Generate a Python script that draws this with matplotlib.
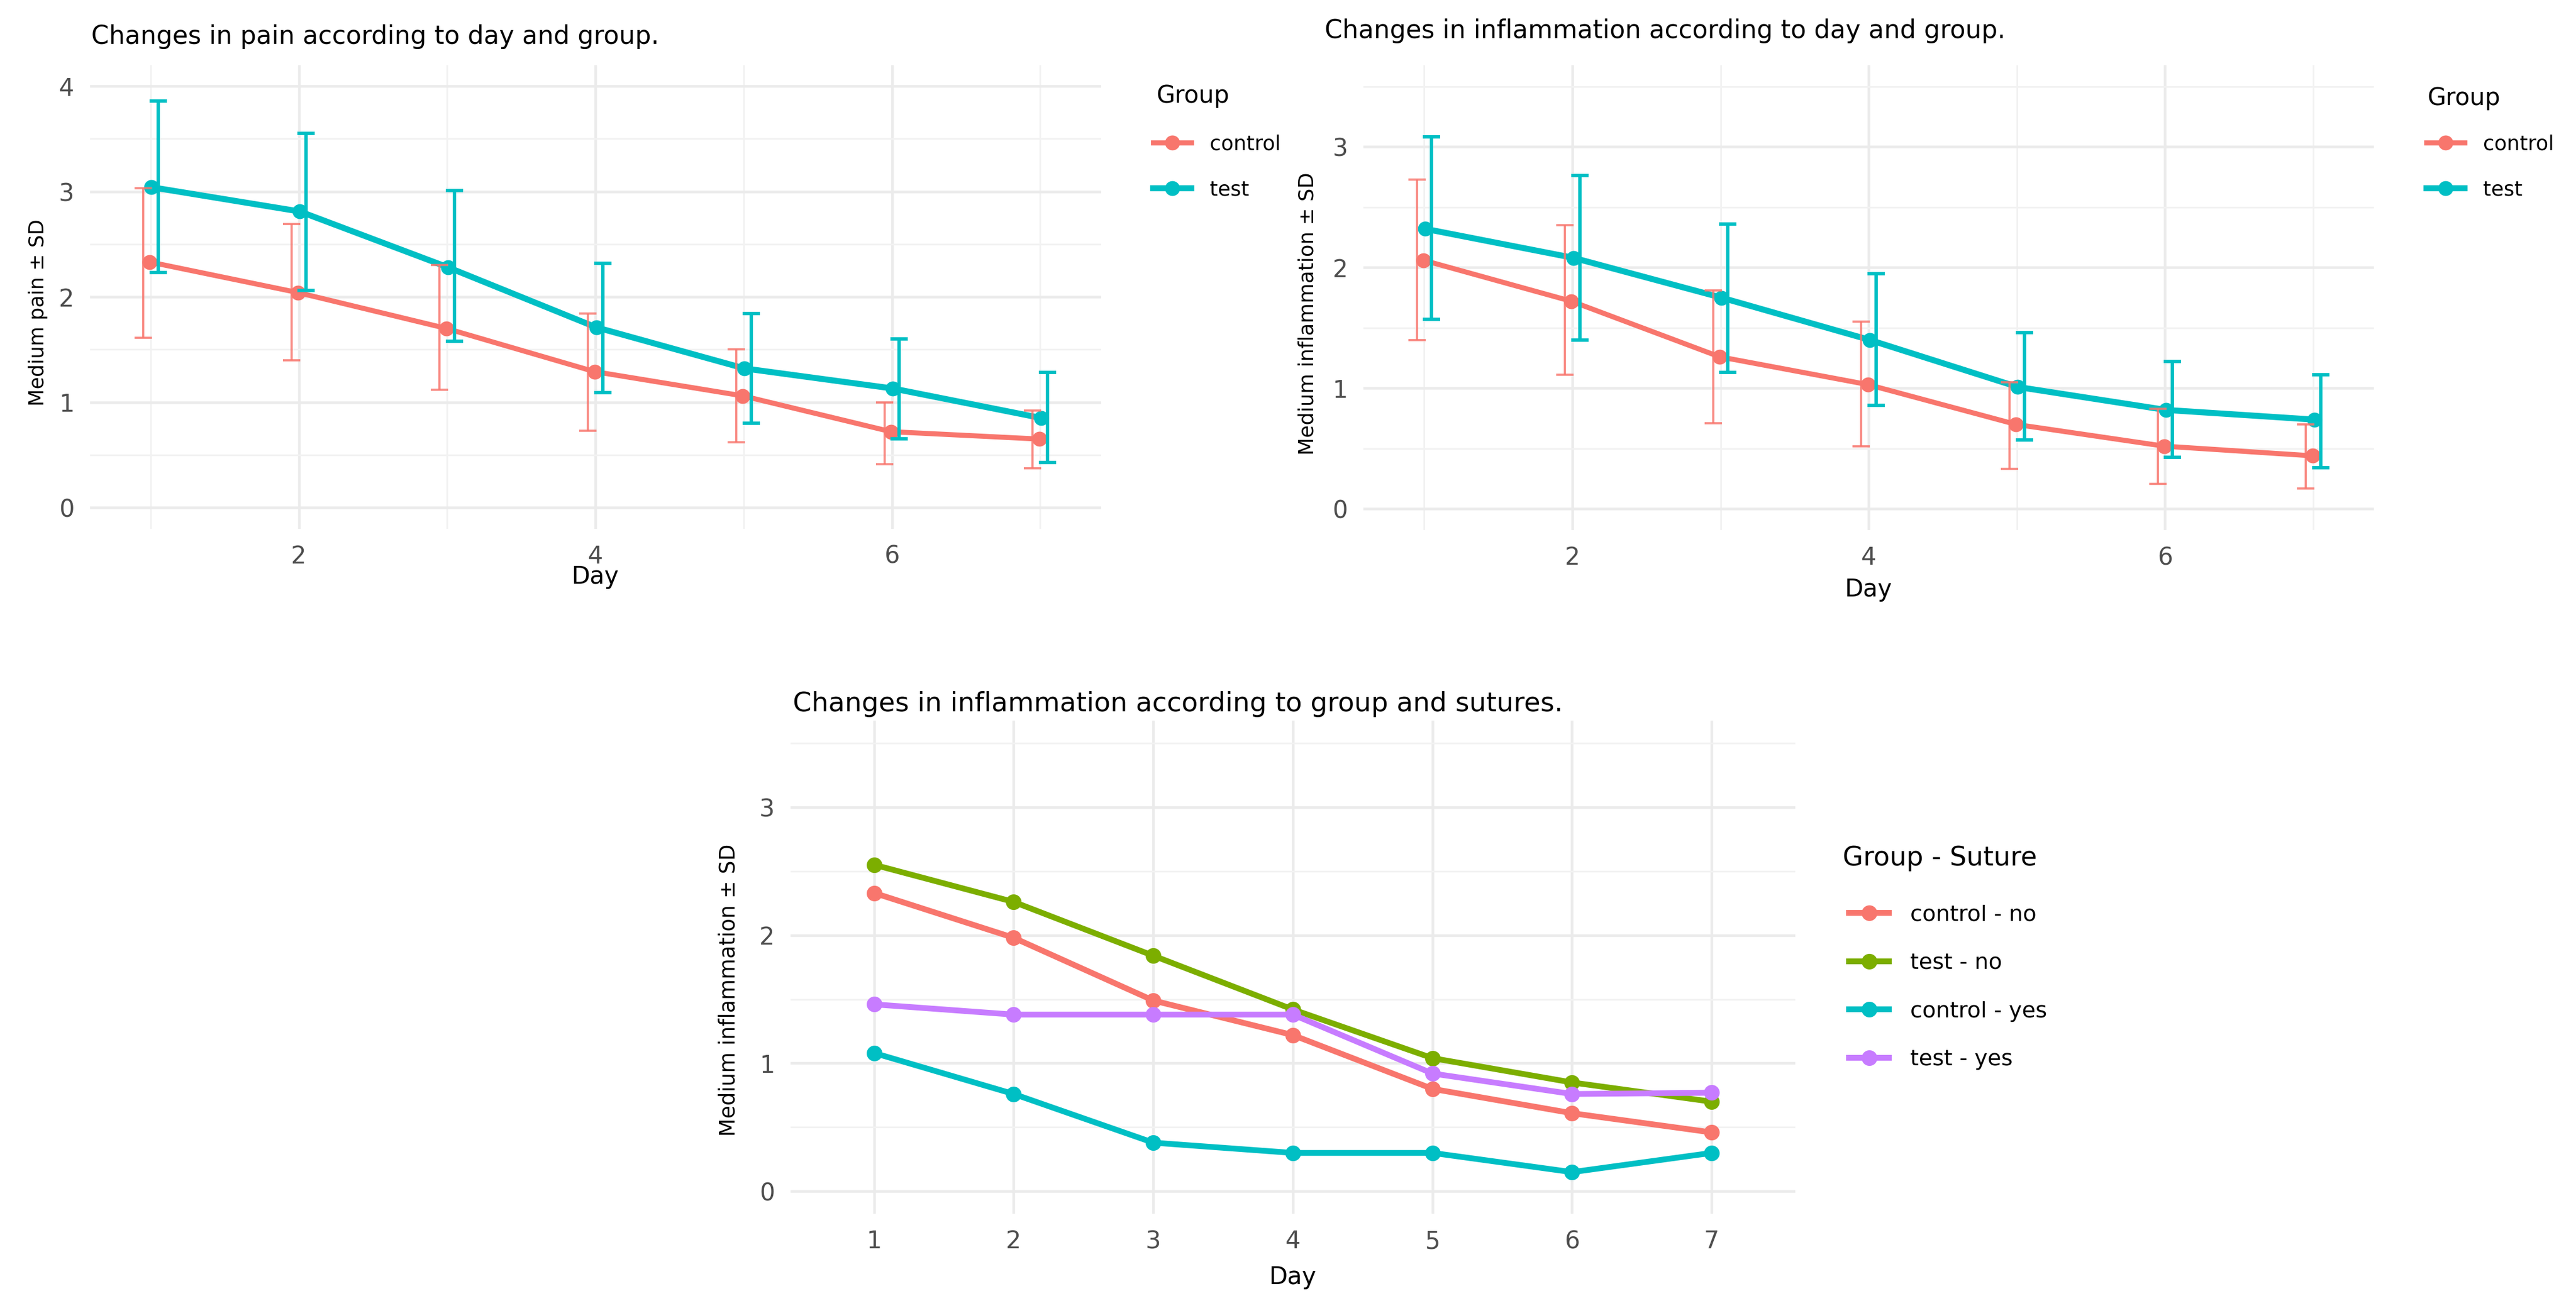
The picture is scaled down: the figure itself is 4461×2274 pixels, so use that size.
import numpy as np
import matplotlib
matplotlib.use("Agg")
import matplotlib.pyplot as plt
from matplotlib.ticker import FixedLocator, MultipleLocator

# ---- data ----
days = [1, 2, 3, 4, 5, 6, 7]

pain_control = [2.33, 2.04, 1.70, 1.29, 1.06, 0.72, 0.65]
pain_control_lo = [1.61, 1.40, 1.12, 0.73, 0.62, 0.41, 0.37]
pain_control_hi = [3.03, 2.69, 2.30, 1.84, 1.50, 1.00, 0.92]
pain_test = [3.04, 2.81, 2.28, 1.71, 1.32, 1.13, 0.85]
pain_test_lo = [2.23, 2.06, 1.58, 1.09, 0.80, 0.65, 0.43]
pain_test_hi = [3.86, 3.55, 3.01, 2.32, 1.84, 1.60, 1.28]

infl_control = [2.06, 1.72, 1.26, 1.03, 0.70, 0.52, 0.44]
infl_control_lo = [1.40, 1.11, 0.71, 0.52, 0.33, 0.21, 0.17]
infl_control_hi = [2.73, 2.35, 1.81, 1.55, 1.05, 0.83, 0.70]
infl_test = [2.32, 2.08, 1.75, 1.40, 1.01, 0.82, 0.74]
infl_test_lo = [1.57, 1.40, 1.13, 0.86, 0.57, 0.43, 0.34]
infl_test_hi = [3.08, 2.76, 2.36, 1.95, 1.46, 1.22, 1.11]

suture_labels = ["control - no", "test - no", "control - yes", "test - yes"]
suture_control_no = [2.33, 1.98, 1.49, 1.22, 0.80, 0.61, 0.46]
suture_test_no = [2.55, 2.26, 1.84, 1.42, 1.04, 0.85, 0.70]
suture_control_yes = [1.08, 0.76, 0.38, 0.30, 0.30, 0.15, 0.30]
suture_test_yes = [1.46, 1.38, 1.38, 1.38, 0.92, 0.76, 0.77]

RED = "#F8766D"
GREEN = "#7CAE00"
CYAN = "#00BFC4"
PURPLE = "#C77CFF"
TICK_GREY = "#4D4D4D"

plt.rcParams["font.family"] = ["DejaVu Sans"]

fig = plt.figure(figsize=(4461 / 300, 2274 / 300), dpi=300)
fig.patch.set_facecolor("white")


def style_axes(ax, xlim, ylim, xmajor, xminor):
    ax.set_xlim(*xlim)
    ax.set_ylim(*ylim)
    ax.xaxis.set_major_locator(FixedLocator(xmajor))
    ax.xaxis.set_minor_locator(FixedLocator(xminor))
    ax.yaxis.set_major_locator(MultipleLocator(1))
    ax.yaxis.set_minor_locator(MultipleLocator(0.5))
    ax.set_axisbelow(True)
    ax.grid(which="major", color="#EBEBEB", lw=1.1)
    ax.grid(which="minor", color="#F2F2F2", lw=0.7)
    for s in ax.spines.values():
        s.set_visible(False)
    ax.tick_params(which="both", length=0, labelsize=10, labelcolor=TICK_GREY)
    ax.tick_params(axis="x", pad=6.5)
    ax.tick_params(axis="y", pad=6.5)


def sd_panel(ax, mean_c, lo_c, hi_c, mean_t, lo_t, hi_t):
    x = np.array(days, dtype=float)
    series = [
        ("control", RED, mean_c, lo_c, hi_c, -1, 2.1, 0.9),
        ("test", CYAN, mean_t, lo_t, hi_t, 1, 2.5, 1.4),
    ]
    for name, col, m, lo, hi, side, lw, elw in series:
        m = np.array(m)
        ax.plot(x + side * 0.006, m, color=col, lw=lw, marker="o", ms=5.2,
                label=name, zorder=3)
    for name, col, m, lo, hi, side, lw, elw in series:
        m = np.array(m)
        err = [m - np.array(lo), np.array(hi) - m]
        ax.errorbar(x + side * 0.05, m, yerr=err, fmt="none", ecolor=col,
                    elinewidth=elw, capsize=3.7, capthick=elw, zorder=4,
                    alpha=0.85 if name == "control" else 1.0)


def legend_at(ax, title, tx, ty, lx, ly, fs, tfs, hl, htp, ls):
    # legend title drawn separately so its gap to the entries can be matched
    fig.text(tx, ty, title, fontsize=tfs, ha="left", va="center")
    ax.legend(loc="upper left", bbox_to_anchor=(lx, ly),
              bbox_transform=fig.transFigure, frameon=False, fontsize=fs,
              handlelength=hl, handletextpad=htp, labelspacing=ls,
              borderpad=0, borderaxespad=0)


# ---- top left: pain ----
ax1 = fig.add_axes([0.03488, 0.5974, 0.3925, 0.3531])
style_axes(ax1, (0.59, 7.41), (-0.2, 4.2), [2, 4, 6], [1, 3, 5, 7])
sd_panel(ax1, pain_control, pain_control_lo, pain_control_hi,
         pain_test, pain_test_lo, pain_test_hi)
ax1.set_xlabel("Day", fontsize=10, va="center")
ax1.xaxis.set_label_coords(0.5, -0.104)
ax1.set_ylabel("Medium pain \u00b1 SD", fontsize=8.3, va="center")
ax1.yaxis.set_label_coords(-0.0512, 0.466)
fig.text(0.0354, 0.9719, "Changes in pain according to day and group.",
         fontsize=10.5, ha="left", va="center")
legend_at(ax1, "Group", 0.4490, 0.9268, 0.4476, 0.8978,
          8.5, 10, 1.87, 0.9, 1.26)

# ---- top right: inflammation ----
ax2 = fig.add_axes([0.5293, 0.5963, 0.3923, 0.3540])
style_axes(ax2, (0.59, 7.41), (-0.175, 3.675), [2, 4, 6], [1, 3, 5, 7])
sd_panel(ax2, infl_control, infl_control_lo, infl_control_hi,
         infl_test, infl_test_lo, infl_test_hi)
ax2.set_xlabel("Day", fontsize=10, va="center")
ax2.xaxis.set_label_coords(0.5, -0.128)
ax2.set_ylabel("Medium inflammation \u00b1 SD", fontsize=8.5, va="center")
ax2.yaxis.set_label_coords(-0.055, 0.466)
fig.text(0.5142, 0.9763, "Changes in inflammation according to day and group.",
         fontsize=10.5, ha="left", va="center")
legend_at(ax2, "Group", 0.9422, 0.9252, 0.9419, 0.8978,
          8.5, 10, 1.87, 0.9, 1.26)

# ---- bottom: group x sutures ----
ax3 = fig.add_axes([0.3068, 0.0756, 0.3902, 0.3755])
style_axes(ax3, (0.4, 7.6), (-0.175, 3.675), days, [])
suture_series = [suture_control_no, suture_test_no, suture_control_yes, suture_test_yes]
for lab, vals, col in zip(suture_labels, suture_series, [RED, GREEN, CYAN, PURPLE]):
    ax3.plot(days, vals, color=col, lw=2.4, marker="o", ms=5.5, label=lab, zorder=3)
ax3.set_xlabel("Day", fontsize=10, va="center")
ax3.xaxis.set_label_coords(0.5, -0.129)
ax3.set_ylabel("Medium inflammation \u00b1 SD", fontsize=8.8, va="center")
ax3.yaxis.set_label_coords(-0.0614, 0.453)
fig.text(0.3078, 0.4639, "Changes in inflammation according to group and sutures.",
         fontsize=11.1, ha="left", va="center")
legend_at(ax3, "Group - Suture", 0.7154, 0.3463, 0.7178, 0.3110,
          9.2, 11, 1.8, 0.95, 1.24)

fig.savefig("out.png", dpi=300, facecolor="white")
